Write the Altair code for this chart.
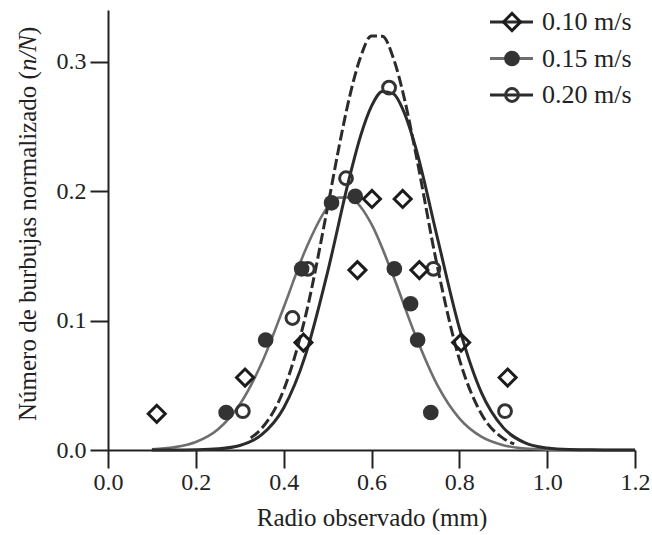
import altair as alt
import pandas as pd

FONT = "Liberation Serif"
INK = "#222222"

series = ["0.10 m/s", "0.15 m/s", "0.20 m/s"]

# measured points (radius mm, n/N)
r_010 = [0.111, 0.312, 0.445, 0.568, 0.601, 0.671, 0.709, 0.804, 0.910]
n_010 = [0.028, 0.056, 0.083, 0.139, 0.194, 0.194, 0.139, 0.083, 0.056]
r_015 = [0.269, 0.359, 0.441, 0.509, 0.563, 0.652, 0.689, 0.705, 0.735]
n_015 = [0.029, 0.085, 0.140, 0.191, 0.196, 0.140, 0.113, 0.085, 0.029]
r_020 = [0.307, 0.420, 0.455, 0.542, 0.640, 0.741, 0.904]
n_020 = [0.030, 0.102, 0.140, 0.210, 0.280, 0.140, 0.030]

# fitted curves
fit_r_010 = [0.325, 0.35, 0.40, 0.45, 0.50, 0.525, 0.55, 0.575, 0.60, 0.625,
             0.65, 0.675, 0.70, 0.75, 0.80, 0.85, 0.90, 0.925]
fit_n_010 = [0.0093, 0.0167, 0.0464, 0.1039, 0.1875, 0.2324, 0.2728, 0.3035,
             0.3200, 0.3197, 0.3026, 0.2714, 0.2306, 0.1417, 0.0702, 0.0280,
             0.0090, 0.0047]
fit_r_015 = [0.10, 0.15, 0.20, 0.25, 0.30, 0.35, 0.40, 0.45, 0.50, 0.525, 0.55,
             0.575, 0.60, 0.65, 0.70, 0.75, 0.80, 0.85, 0.90, 0.95, 1.00, 1.05,
             1.10, 1.15, 1.20]
fit_n_015 = [0.0006, 0.0021, 0.0062, 0.0159, 0.0352, 0.0672, 0.1101, 0.1550,
             0.1876, 0.1950, 0.1951, 0.1880, 0.1745, 0.1340, 0.0885, 0.0502,
             0.0245, 0.0103, 0.0037, 0.0011, 0.0003, 0.0001, 0.0, 0.0, 0.0]
fit_r_020 = [0.10, 0.15, 0.20, 0.25, 0.30, 0.35, 0.40, 0.45, 0.50, 0.55, 0.575,
             0.60, 0.625, 0.65, 0.675, 0.70, 0.75, 0.80, 0.85, 0.90, 0.95, 1.00,
             1.05, 1.10, 1.15, 1.20]
fit_n_020 = [0.0, 0.0, 0.0002, 0.0009, 0.0035, 0.0118, 0.0325, 0.0737, 0.1375,
             0.2108, 0.2425, 0.2657, 0.2771, 0.2752, 0.2603, 0.2344, 0.1640,
             0.0944, 0.0446, 0.0173, 0.0055, 0.0015, 0.0003, 0.0001, 0.0, 0.0]

x_ticks = [0.0, 0.2, 0.4, 0.6, 0.8, 1.0, 1.2]
y_ticks = [0.0, 0.1, 0.2, 0.3]

DARK = "#2b2b2b"
GREY = "#6e6e6e"

X = alt.X("r:Q", scale=alt.Scale(domain=[0, 1.2], nice=False, zero=False),
          axis=alt.Axis(values=x_ticks, format=".1f", title="Radio observado (mm)",
                        labelFlush=False, labelPadding=2, titleBaseline="alphabetic",
                        titleY=75))
Y = alt.Y("n:Q", scale=alt.Scale(domain=[0, 0.34], nice=False),
          axis=alt.Axis(values=y_ticks, format=".1f", title=None, labelPadding=4))


def df(r, n):
    return pd.DataFrame({"r": r, "n": n})


line_grey = alt.Chart(df(fit_r_015, fit_n_015)).mark_line(
    color=GREY, strokeWidth=2.6, interpolate="monotone").encode(x=X, y=Y)
line_dark = alt.Chart(df(fit_r_020, fit_n_020)).mark_line(
    color=DARK, strokeWidth=3, interpolate="monotone").encode(x=X, y=Y)
line_dash = alt.Chart(df(fit_r_010, fit_n_010)).mark_line(
    color=DARK, strokeWidth=3, strokeDash=[11, 4], interpolate="monotone").encode(x=X, y=Y)

pt_010 = alt.Chart(df(r_010, n_010)).mark_point(
    shape="diamond", size=290, filled=False, color="#1c1c1c", strokeWidth=3,
    opacity=1).encode(x=X, y=Y)
pt_015 = alt.Chart(df(r_015, n_015)).mark_point(
    shape="circle", size=245, filled=True, color="#333333", opacity=1).encode(x=X, y=Y)
pt_020 = alt.Chart(df(r_020, n_020)).mark_point(
    shape="circle", size=165, filled=False, color="#333333", strokeWidth=3,
    opacity=1).encode(x=X, y=Y)

# legend (manual, line + marker + label)
leg_layers = []
leg_y = [12, 48.5, 85]
leg_line_col = [DARK, GREY, DARK]
for i, s in enumerate(series):
    d = pd.DataFrame({"s": [s]})
    leg_layers.append(alt.Chart(d).mark_rule(color=leg_line_col[i], strokeWidth=3).encode(
        x=alt.value(382), x2=alt.value(425), y=alt.value(leg_y[i])))
    if i == 0:
        m = alt.Chart(d).mark_point(shape="diamond", size=290, filled=False,
                                    color="#1c1c1c", strokeWidth=3, opacity=1)
    elif i == 1:
        m = alt.Chart(d).mark_point(shape="circle", size=245, filled=True,
                                    color="#333333", opacity=1)
    else:
        m = alt.Chart(d).mark_point(shape="circle", size=165, filled=False,
                                    color="#333333", strokeWidth=3, opacity=1)
    leg_layers.append(m.encode(x=alt.value(404), y=alt.value(leg_y[i])))
    leg_layers.append(alt.Chart(d).mark_text(
        align="left", baseline="middle", font=FONT, fontSize=26, color=INK).encode(
        x=alt.value(434), y=alt.value(leg_y[i]), text="s:N"))

# y-axis title with italic n/N
title_parts = ["Número de burbujas normalizado (", "n/N", ")"]
title_style = ["normal", "italic", "normal"]
title_len_em = [13.997, 1.445, 0.333]
TS = 25
ty = 411
title_layers = []
for part, st, w in zip(title_parts, title_style, title_len_em):
    title_layers.append(alt.Chart(pd.DataFrame({"t": [part]})).mark_text(
        align="left", baseline="alphabetic", angle=270, font=FONT, fontSize=TS,
        fontStyle=st, color=INK).encode(x=alt.value(-72), y=alt.value(ty), text="t:N"))
    ty -= w * TS

chart = alt.layer(line_grey, line_dark, line_dash, pt_015, pt_020, pt_010,
                  *leg_layers, *title_layers).properties(
    width=527, height=440,
    autosize=alt.AutoSizeParams(type="none"),
    padding={"left": 108, "top": 10, "right": 17, "bottom": 85},
    background="white",
).configure_view(stroke=None).configure_axis(
    grid=False, domainColor=INK, domainWidth=2, tickColor=INK, tickWidth=2,
    tickSize=18, labelFont=FONT, labelFontSize=24, labelColor=INK,
    titleFont=FONT, titleFontSize=25, titleFontWeight="normal", titleColor=INK,
)

chart.save("out.html", embed_options={"renderer": "svg", "actions": False})
